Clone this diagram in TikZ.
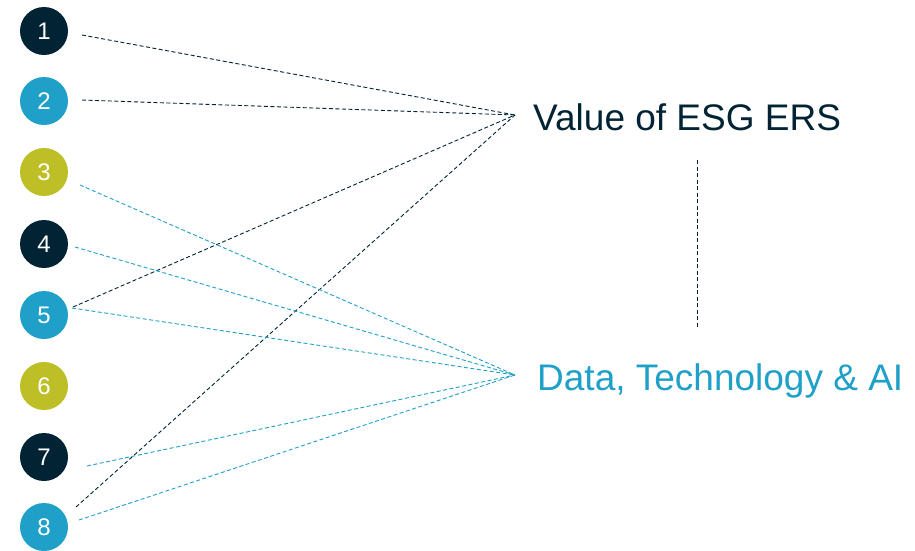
\documentclass[tikz,border=0pt]{standalone}
\usepackage{fontspec}
\setmainfont{Liberation Sans}
\definecolor{navy}{RGB}{1,35,52}
\definecolor{cyanb}{RGB}{30,160,200}
\definecolor{olive}{RGB}{190,190,38}
\begin{document}
\begin{tikzpicture}[x=1pt,y=-1pt,
  num/.style={circle,minimum size=48pt,inner sep=0pt,text=white,font=\fontsize{24}{24}\selectfont},
  darkline/.style={navy,line width=0.9pt,dash pattern=on 4pt off 2.5pt},
  cyanline/.style={cyanb,line width=0.9pt,dash pattern=on 4pt off 2.5pt},
  lbl/.style={anchor=base west,inner sep=0pt,font=\fontsize{37}{37}\selectfont}]
\useasboundingbox (0,0) rectangle (915,550);
\node[num,fill=navy]  (n1) at (44,31)  {1};
\node[num,fill=cyanb] (n2) at (44,101) {2};
\node[num,fill=olive] (n3) at (44,172) {3};
\node[num,fill=navy]  (n4) at (44,244) {4};
\node[num,fill=cyanb] (n5) at (44,315) {5};
\node[num,fill=olive] (n6) at (44,386) {6};
\node[num,fill=navy]  (n7) at (44,457) {7};
\node[num,fill=cyanb] (n8) at (44,527) {8};
\node[lbl,text=navy]  (esg)  at (533,130) {Value of ESG ERS};
\node[lbl,text=cyanb] (data) at (537,390) {Data, Technology \& AI};
\coordinate (hubA) at (515,115);
\coordinate (hubB) at (515,375);
\coordinate (s1) at (82,35);
\coordinate (s2) at (82,100);
\coordinate (s3) at (80,185);
\coordinate (s4) at (75,247);
\coordinate (s5a) at (73,307);
\coordinate (s5b) at (72,308);
\coordinate (s7) at (87,466);
\coordinate (s8a) at (76,507);
\coordinate (s8b) at (79,520);
\coordinate (vtop) at (697,160);
\coordinate (vbot) at (697,328);
\draw[darkline] (s1) -- (hubA);
\draw[darkline] (s2) -- (hubA);
\draw[darkline] (s5a) -- (hubA);
\draw[darkline] (s8a) -- (hubA);
\draw[cyanline] (s3) -- (hubB);
\draw[cyanline] (s4) -- (hubB);
\draw[cyanline] (s5b) -- (hubB);
\draw[cyanline] (s7) -- (hubB);
\draw[cyanline] (s8b) -- (hubB);
\draw[navy,line width=0.8pt,dash pattern=on 4pt off 2.5pt] (vtop) -- (vbot);
\end{tikzpicture}
\end{document}
